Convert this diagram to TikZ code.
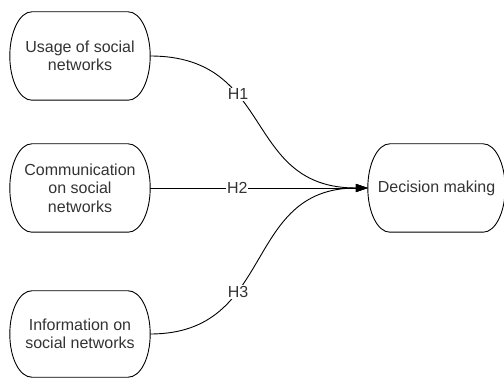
\documentclass[tikz,border=0pt]{standalone}
\usepackage{fontspec}
\setmainfont{Liberation Sans}
\usetikzlibrary{arrows.meta,calc}
\definecolor{txt}{HTML}{333333}
\tikzset{
  x=1pt,y=1pt,
  box/.style={minimum width=#1, minimum height=88pt, inner sep=0pt, align=center,
    text=txt, font=\fontsize{16}{18.5}\selectfont},
  box/.default=140pt,
  outline/.style={draw=black, line width=0.9pt},
  conn/.style={draw=black, line width=0.9pt, -{Triangle[length=12pt,width=8pt]}},
  hlab/.style={fill=white, inner sep=1pt, text=txt, font=\fontsize{16}{18}\selectfont}
}
\newcommand\stadiumline[1]{%
  \draw[outline] ($(#1.north west)+(22,0)$) -- ($(#1.north east)+(-22,0)$)
    .. controls +(12.1,0) and +(0,24.3) .. (#1.east)
    .. controls +(0,-24.3) and +(12.1,0) .. ($(#1.south east)+(-22,0)$)
    -- ($(#1.south west)+(22,0)$)
    .. controls +(-12.1,0) and +(0,-24.3) .. (#1.west)
    .. controls +(0,24.3) and +(-12.1,0) .. cycle;}
\begin{document}
\begin{tikzpicture}
\useasboundingbox (0,0) rectangle (504,378);
\begin{scope}
\clip (0,0) rectangle (504,378);
\node[box] (usage) at (80,322) {Usage of social\\networks};
\node[box] (comm) at (80,190) {Communication\\on social\\networks};
\node[box, minimum height=86pt] (info) at (80,44) {Information on\\social networks};
\node[box=137pt] (dm) at (436.5,190) {Decision making};
\stadiumline{usage}
\stadiumline{comm}
\stadiumline{info}
\stadiumline{dm}
\draw[conn] (usage.east) .. controls +(126,0) and +(-126,0) .. node[hlab, pos=0.355] {H1} (dm.west);
\draw[conn] (comm.east) -- node[hlab, pos=0.4] {H2} (dm.west);
\draw[conn] (info.east) .. controls +(126,0) and +(-126,0) .. node[hlab, pos=0.355] {H3} (dm.west);
\end{scope}
\end{tikzpicture}
\end{document}
